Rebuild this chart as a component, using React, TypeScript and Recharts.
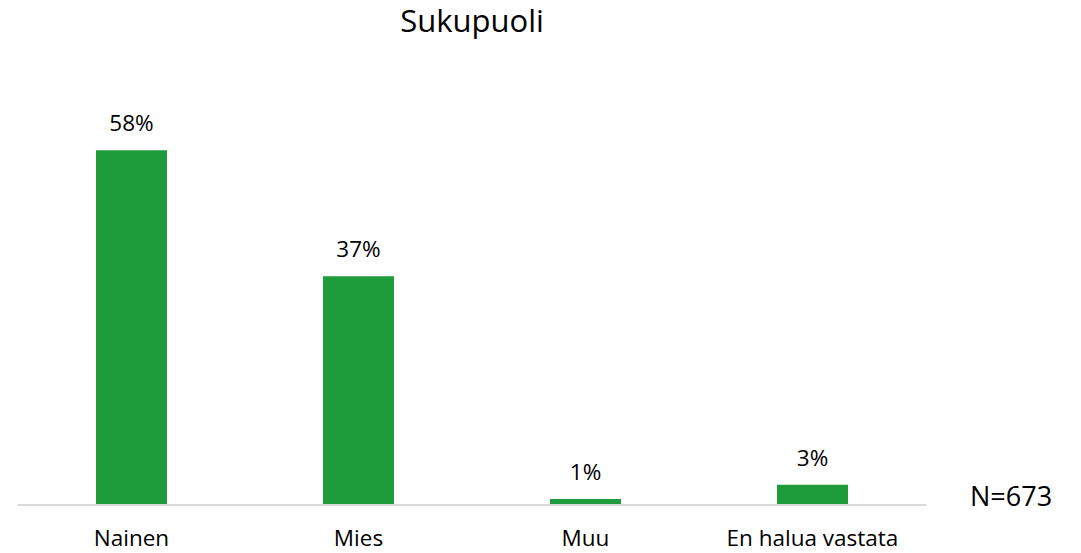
import React from "react";
import { BarChart, Bar, XAxis, YAxis, LabelList } from "recharts";

const categories = ["Nainen", "Mies", "Muu", "En halua vastata"];
const shares = [58, 37.4, 1, 3.3];
const chartTitle = "Sukupuoli";
const sampleNote = "N=673";

const data = categories.map((name, i) => ({ name, value: shares[i] }));

const FONT = "'Open Sans', 'Liberation Sans', sans-serif";

export default function App() {
  return (
    <div style={{ position: "absolute", left: 0, top: 0, width: 1081, height: 553, background: "#fff", fontFamily: FONT }}>
      <div style={{ position: "absolute", left: 18, width: 908, top: -2, textAlign: "center", fontSize: 31, lineHeight: "44px", color: "#000" }}>
        {chartTitle}
      </div>
      <div style={{ position: "absolute", left: 970, top: 478, fontSize: 27, lineHeight: "36px", color: "#000", whiteSpace: "nowrap" }}>
        {sampleNote}
      </div>
      <BarChart
        width={1081}
        height={553}
        data={data}
        margin={{ top: 77, right: 155, bottom: 0, left: 18 }}
        barCategoryGap={78}
      >
        <XAxis
          dataKey="name"
          height={48}
          tickLine={false}
          tickSize={0}
          tickMargin={25}
          axisLine={{ stroke: "#d9d9d9", strokeWidth: 2 }}
          tick={{ fill: "#000", fontSize: 22.5, fontFamily: FONT }}
          interval={0}
        />
        <YAxis hide domain={[0, 70]} />
        <Bar dataKey="value" fill="#1e9b3a" isAnimationActive={false}>
          <LabelList
            dataKey="value"
            position="top"
            offset={19}
            formatter={(v: any) => `${Math.round(Number(v))}%`}
            style={{ fill: "#000", fontSize: 22.5, fontFamily: FONT }}
          />
        </Bar>
      </BarChart>
    </div>
  );
}
